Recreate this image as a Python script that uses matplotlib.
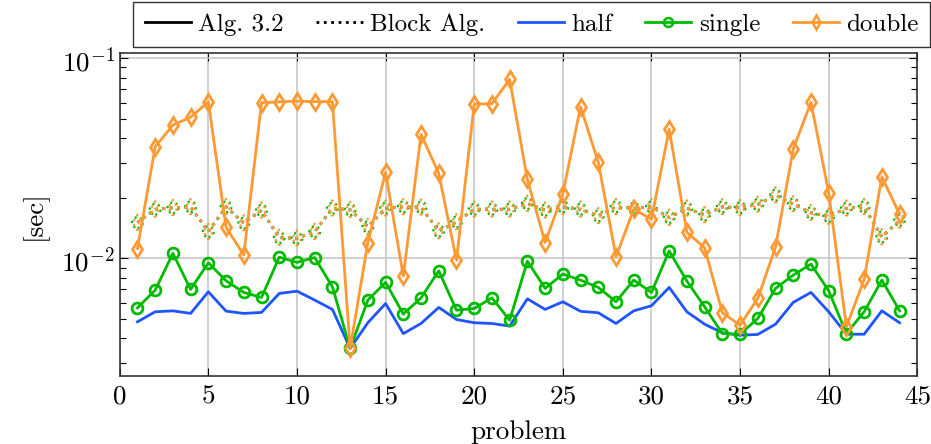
import numpy as np
import matplotlib
matplotlib.use("Agg")
import matplotlib.pyplot as plt
from matplotlib.lines import Line2D
from matplotlib.ticker import FixedLocator, FuncFormatter, LogLocator, NullFormatter

plt.rcParams['font.family'] = 'serif'
plt.rcParams['font.serif'] = ['cmr10']
plt.rcParams['mathtext.fontset'] = 'cm'
plt.rcParams['axes.unicode_minus'] = False

problem = np.arange(1, 45)

# Alg. 3.2 timings [sec]
half = [4.82e-3, 5.41e-3, 5.47e-3, 5.31e-3, 6.81e-3, 5.45e-3, 5.31e-3, 5.37e-3, 6.68e-3, 6.86e-3,
        6.19e-3, 5.56e-3, 3.55e-3, 4.77e-3, 5.95e-3, 4.21e-3, 4.73e-3, 5.69e-3, 4.95e-3, 4.77e-3,
        4.73e-3, 4.59e-3, 6.28e-3, 5.56e-3, 6.07e-3, 5.44e-3, 5.35e-3, 4.73e-3, 5.47e-3, 5.80e-3,
        7.16e-3, 5.41e-3, 4.69e-3, 4.25e-3, 4.13e-3, 4.17e-3, 4.69e-3, 6.03e-3, 6.76e-3, 5.41e-3,
        4.18e-3, 4.18e-3, 5.47e-3, 4.77e-3]
single = [5.66e-3, 6.94e-3, 1.06e-2, 7.00e-3, 9.51e-3, 7.73e-3, 6.76e-3, 6.38e-3, 1.015e-2, 9.55e-3,
          1.01e-2, 7.21e-3, 3.55e-3, 6.19e-3, 7.59e-3, 5.27e-3, 6.35e-3, 8.67e-3, 5.51e-3, 5.62e-3,
          6.35e-3, 4.91e-3, 9.69e-3, 7.08e-3, 8.35e-3, 7.79e-3, 7.16e-3, 6.07e-3, 7.79e-3, 6.76e-3,
          1.09e-2, 7.70e-3, 5.73e-3, 4.21e-3, 4.18e-3, 5.01e-3, 7.08e-3, 8.25e-3, 9.37e-3, 6.89e-3,
          4.21e-3, 5.41e-3, 7.79e-3, 5.47e-3]
double = [1.12e-2, 3.61e-2, 4.64e-2, 5.07e-2, 6.07e-2, 1.43e-2, 1.04e-2, 6.00e-2, 6.05e-2, 6.11e-2,
          6.07e-2, 6.07e-2, 3.55e-3, 1.20e-2, 2.69e-2, 8.16e-3, 4.17e-2, 2.66e-2, 9.80e-3, 5.91e-2,
          5.93e-2, 7.85e-2, 2.48e-2, 1.20e-2, 2.10e-2, 5.73e-2, 3.02e-2, 1.02e-2, 1.76e-2, 1.57e-2,
          4.42e-2, 1.35e-2, 1.13e-2, 5.35e-3, 4.64e-3, 6.31e-3, 1.14e-2, 3.52e-2, 6.03e-2, 2.13e-2,
          4.55e-3, 7.85e-3, 2.56e-2, 1.66e-2]

# Block Alg. timings [sec] (half/single/double nearly identical)
block = [1.51e-2, 1.76e-2, 1.79e-2, 1.81e-2, 1.36e-2, 1.81e-2, 1.50e-2, 1.74e-2, 1.27e-2, 1.26e-2,
         1.36e-2, 1.78e-2, 1.75e-2, 1.44e-2, 1.78e-2, 1.81e-2, 1.80e-2, 1.37e-2, 1.52e-2, 1.76e-2,
         1.76e-2, 1.76e-2, 1.88e-2, 1.74e-2, 1.81e-2, 1.76e-2, 1.63e-2, 1.81e-2, 1.78e-2, 1.81e-2,
         1.60e-2, 1.78e-2, 1.65e-2, 1.81e-2, 1.79e-2, 1.86e-2, 2.07e-2, 1.87e-2, 1.69e-2, 1.62e-2,
         1.78e-2, 1.81e-2, 1.28e-2, 1.55e-2]

blue = '#1f55ff'
green = '#00bb00'
orange = '#ff9933'
fs = 19.5

fig = plt.figure(figsize=(9.31, 4.44), dpi=100)
ax = fig.add_axes([0.1286, 0.153, 0.8567, 0.727])

lw = 2.0
# Block Alg. (dotted)
ax.plot(problem, block, color=blue, lw=lw, ls=':', zorder=3)
ax.plot(problem, block, color=green, lw=lw, ls=':', zorder=3)
ax.scatter(problem, block, s=60, marker='o', facecolors='none', edgecolors=green,
           linewidths=1.6, linestyles=':', zorder=3)
ax.plot(problem, block, color=orange, lw=lw, ls=':', zorder=3)
ax.scatter(problem, block, s=65, marker='d', facecolors='none', edgecolors=orange,
           linewidths=1.6, linestyles=':', zorder=3)

# Alg. 3.2 (solid)
ax.plot(problem, half, color=blue, lw=lw, zorder=4)
ax.plot(problem, single, color=green, lw=lw, marker='o', ms=7.8, mfc='none', mew=2.0, zorder=4)
ax.plot(problem, double, color=orange, lw=lw, marker='d', ms=8.2, mfc='none', mew=2.0, zorder=5)

ax.set_yscale('log')
ax.set_xlim(0, 45)
ax.set_ylim(10 ** -2.588, 10 ** -0.975)
ax.xaxis.set_major_locator(FixedLocator(range(0, 46, 5)))
ax.yaxis.set_major_locator(FixedLocator([1e-2, 1e-1]))
ax.yaxis.set_major_formatter(FuncFormatter(lambda v, p: r'$10^{%d}$' % round(np.log10(v))))
ax.yaxis.set_minor_locator(LogLocator(base=10, subs=np.arange(2, 10)))
ax.yaxis.set_minor_formatter(NullFormatter())
ax.tick_params(which='both', direction='in', top=True, right=True, labelsize=fs, width=0.8)
ax.tick_params(which='major', length=6)
ax.tick_params(which='minor', length=4)
ax.tick_params(axis='x', pad=6)
ax.grid(True, which='major', color='#c8c8c8', lw=1.2)
ax.set_axisbelow(True)
for s in ax.spines.values():
    s.set_linewidth(1.2)
    s.set_color('#333333')

ax.set_xlabel('problem', fontsize=fs, labelpad=9)
ax.set_ylabel('[sec]', fontsize=fs, labelpad=10)

handles = [
    Line2D([], [], color='black', lw=lw),
    Line2D([], [], color='black', lw=lw, ls=':'),
    Line2D([], [], color=blue, lw=lw),
    Line2D([], [], color=green, lw=lw, marker='o', ms=6.5, mfc='none', mew=1.8),
    Line2D([], [], color=orange, lw=lw, marker='d', ms=7, mfc='none', mew=1.8),
]
labels = ['Alg. 3.2', 'Block Alg.', 'half', 'single', 'double']
leg = fig.legend(handles, labels, loc='upper right', bbox_to_anchor=(0.999, 0.996), ncol=5,
                 fontsize=18, frameon=True, fancybox=False, edgecolor='black',
                 handlelength=1.85, handletextpad=0.3, columnspacing=1.3, borderpad=0.45,
                 borderaxespad=0)
leg.get_frame().set_linewidth(1.0)

fig.savefig('out.png', dpi=100)
